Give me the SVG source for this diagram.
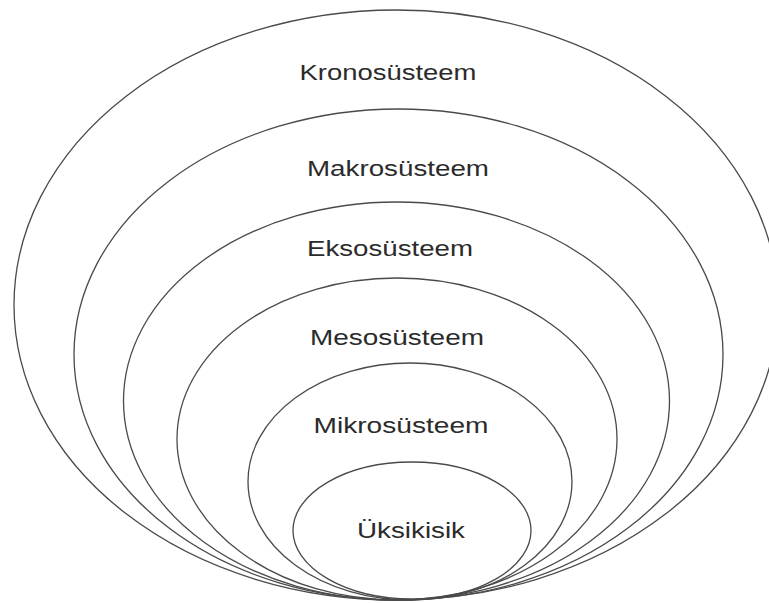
<svg xmlns="http://www.w3.org/2000/svg" width="769" height="603" viewBox="0 0 769 603">
<style>
.ring{fill:none;stroke:#4a4a4a;stroke-width:1.3}
.lbl{font-family:"Liberation Sans",Arial,sans-serif;font-size:21.5px;fill:#2b2b2b;text-anchor:middle}
</style>
<rect width="769" height="603" fill="#ffffff"/>
<g id="kronosysteem">
<ellipse class="ring" cx="396" cy="305" rx="382" ry="295"/>
<text class="lbl" x="388" y="80" textLength="177" lengthAdjust="spacingAndGlyphs">Kronosüsteem</text>
</g>
<g id="makrosysteem">
<ellipse class="ring" cx="398.5" cy="354.5" rx="324.5" ry="245.5"/>
<text class="lbl" x="398" y="176" textLength="182" lengthAdjust="spacingAndGlyphs">Makrosüsteem</text>
</g>
<g id="eksosysteem">
<ellipse class="ring" cx="396.5" cy="401" rx="273" ry="199"/>
<text class="lbl" x="390" y="256" textLength="166" lengthAdjust="spacingAndGlyphs">Eksosüsteem</text>
</g>
<g id="mesosysteem">
<ellipse class="ring" cx="397" cy="439" rx="220" ry="161"/>
<text class="lbl" x="397" y="345" textLength="174" lengthAdjust="spacingAndGlyphs">Mesosüsteem</text>
</g>
<g id="mikrosysteem">
<ellipse class="ring" cx="410" cy="481.5" rx="162" ry="118.5"/>
<text class="lbl" x="401" y="433" textLength="175" lengthAdjust="spacingAndGlyphs">Mikrosüsteem</text>
</g>
<g id="uksikisik">
<ellipse class="ring" cx="412" cy="530.5" rx="119" ry="68.5"/>
<text class="lbl" x="411" y="538" textLength="108" lengthAdjust="spacingAndGlyphs">Üksikisik</text>
</g>
<g id="connectors"/>
</svg>
